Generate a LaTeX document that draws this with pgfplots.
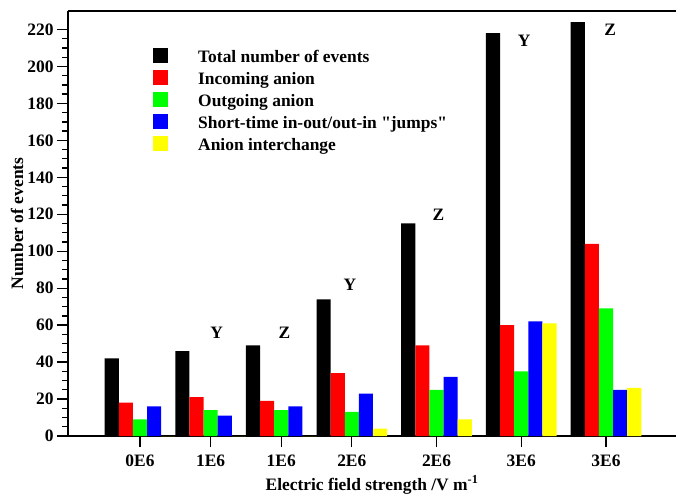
\documentclass[border=0pt]{standalone}
\usepackage{fontspec}
\setmainfont{Liberation Serif}[Ligatures=TeXOff]
\usepackage{pgfplots}
\usepackage{pgfplotstable}
\pgfplotsset{compat=1.18}

% Event counts per field strength (field in units of 1E6 V/m)
\pgfplotstableread{
x    tot  inc  out  jmp  xch
0.0  42   18   9    16   0
0.5  46   21   14   11   0
1.0  49   19   14   16   0
1.5  74   34   13   23   4
2.1  115  49   25   32   9
2.7  218  60   35   62   61
3.3  224  104  69   25   26
}\events

\definecolor{cblack}{RGB}{0,0,0}
\definecolor{cred}{RGB}{255,0,0}
\definecolor{cgreen}{RGB}{0,255,0}
\definecolor{cblue}{RGB}{0,0,255}
\definecolor{cyellow}{RGB}{255,255,0}

\begin{document}
\begin{tikzpicture}[font=\bfseries\fontsize{17.5}{20}\selectfont]
\begin{axis}[
  scale only axis,
  width=608bp, height=425bp,
  xmin=-0.51, xmax=3.796,
  ymin=0, ymax=230,
  axis x line*=bottom,
  axis y line*=left,
  axis line style={line width=1.6bp,-},
  tick align=outside,
  major tick length=11bp,
  minor tick length=6bp,
  tick style={line width=1.3bp,black},
  ytick={0,20,...,220},
  minor y tick num=3,
  xtick={0,0.5,1.0,1.5,2.1,2.7,3.3},
  xticklabels={0E6,1E6,1E6,2E6,2E6,3E6,3E6},
  /pgf/number format/assume math mode=true,
  tick label style={font=\bfseries\fontsize{17.5}{20}\selectfont},
  xticklabel style={yshift=-4bp},
  xlabel={Electric field strength /V m\textsuperscript{-1}},
  ylabel={Number of events},
  xlabel style={at={(axis description cs:0.5,-0.1271)},anchor=base},
  ylabel style={at={(axis description cs:-0.0839,0.5)},anchor=center},
  ybar, bar width=0.1,
  legend style={draw=none, fill=none, inner sep=0pt,
    at={(axis description cs:0.1398,0.9141)}, anchor=north west,
    row sep=6bp,
    nodes={inner sep=0pt, text height=15bp, text depth=1bp, anchor=base west},
    /tikz/every odd column/.append style={column sep=30bp}},
  legend image code/.code={\fill[#1,draw=none] (0bp,0bp) rectangle (15bp,15bp);},
]
\addplot[fill=cblack, draw=none, bar shift=-0.2] table[x=x,y=tot]{\events};
\addlegendentry{Total number of events}
\addplot[fill=cred, draw=none, bar shift=-0.1] table[x=x,y=inc]{\events};
\addlegendentry{Incoming anion}
\addplot[fill=cgreen, draw=none, bar shift=0] table[x=x,y=out]{\events};
\addlegendentry{Outgoing anion}
\addplot[fill=cblue, draw=none, bar shift=0.1] table[x=x,y=jmp]{\events};
\addlegendentry{Short-time in-out/out-in "jumps"}
\addplot[fill=cyellow, draw=none, bar shift=0.2] table[x=x,y=xch]{\events};
\addlegendentry{Anion interchange}

% top frame line
\draw[line width=1.6bp] (rel axis cs:0,1) -- (rel axis cs:1,1);

% group markers
\node at (axis cs:0.543,55.9) {Y};
\node at (axis cs:1.022,55.9) {Z};
\node at (axis cs:1.487,82) {Y};
\node at (axis cs:2.113,119.9) {Z};
\node at (axis cs:2.72,213.8) {Y};
\node at (axis cs:3.329,219.6) {Z};
\end{axis}
\pgfresetboundingbox
\useasboundingbox (-68bp,-58bp) rectangle (608bp,436bp);
\end{tikzpicture}
\end{document}
